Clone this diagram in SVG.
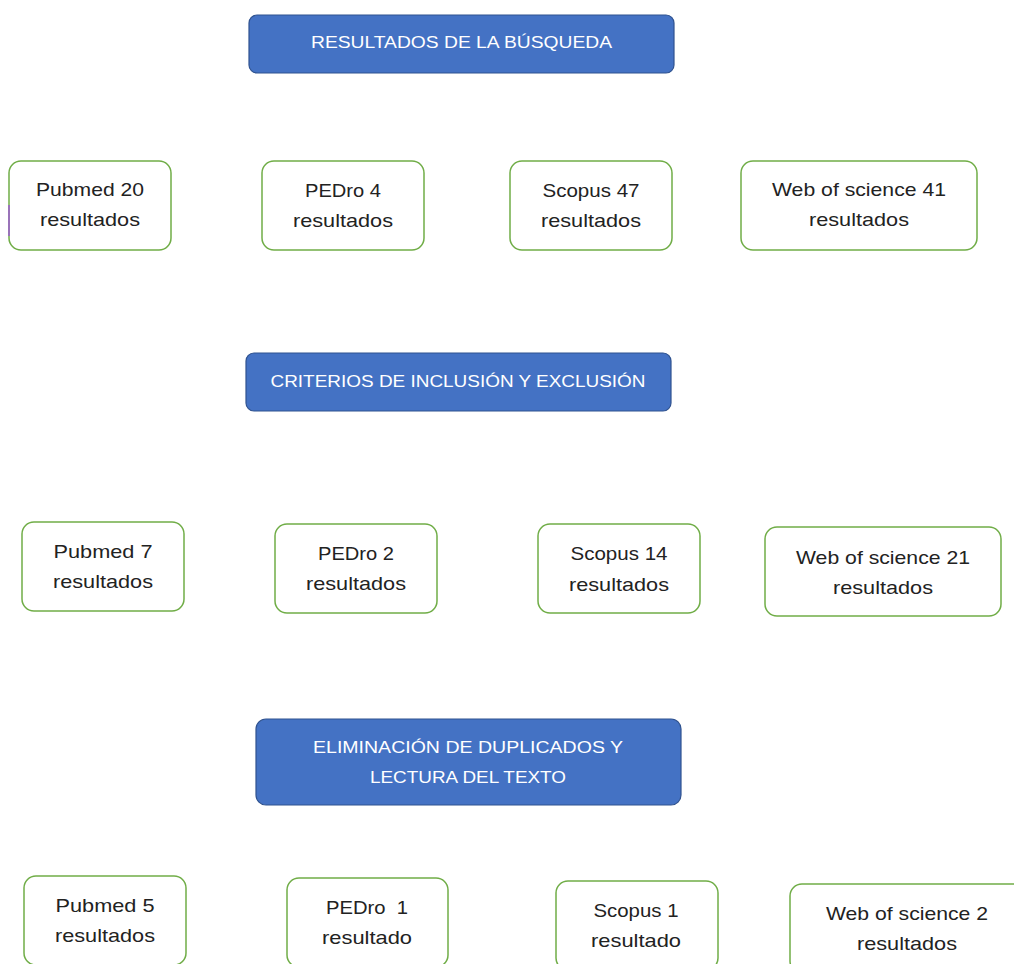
<svg xmlns="http://www.w3.org/2000/svg" width="1014" height="964" viewBox="0 0 1014 964">
<style>
.hdr{fill:#4472C4;stroke:#2F528F;stroke-width:1.2}
.box{fill:#FFFFFF;stroke:#70AD47;stroke-width:1.5}
.ht{font-family:"Liberation Sans",Arial,sans-serif;font-size:17px;fill:#FFFFFF;text-anchor:middle}
.nt{font-family:"Liberation Sans",Arial,sans-serif;font-size:19px;fill:#222222;text-anchor:middle}
</style>
<rect width="1014" height="964" fill="#FFFFFF"/>
<g id="h1"><rect class="hdr" x="249" y="15" width="425" height="58" rx="8"/><text class="ht" x="461.5" y="48" textLength="301" lengthAdjust="spacingAndGlyphs">RESULTADOS DE LA BÚSQUEDA</text></g>
<g id="r1a"><rect class="box" x="9" y="161" width="162" height="89" rx="12"/><line x1="9" y1="205" x2="9" y2="236" stroke="#9B59D0" stroke-width="1.5"/><text class="nt" x="90" y="196" textLength="108" lengthAdjust="spacingAndGlyphs">Pubmed 20</text><text class="nt" x="90" y="226" textLength="100" lengthAdjust="spacingAndGlyphs">resultados</text></g>
<g id="r1b"><rect class="box" x="262" y="161" width="162" height="89" rx="12"/><text class="nt" x="343" y="197" textLength="76" lengthAdjust="spacingAndGlyphs">PEDro 4</text><text class="nt" x="343" y="227" textLength="100" lengthAdjust="spacingAndGlyphs">resultados</text></g>
<g id="r1c"><rect class="box" x="510" y="161" width="162" height="89" rx="12"/><text class="nt" x="591" y="197" textLength="97" lengthAdjust="spacingAndGlyphs">Scopus 47</text><text class="nt" x="591" y="227" textLength="100" lengthAdjust="spacingAndGlyphs">resultados</text></g>
<g id="r1d"><rect class="box" x="741" y="161" width="236" height="89" rx="12"/><text class="nt" x="859" y="196" textLength="174" lengthAdjust="spacingAndGlyphs">Web of science 41</text><text class="nt" x="859" y="226" textLength="100" lengthAdjust="spacingAndGlyphs">resultados</text></g>
<g id="h2"><rect class="hdr" x="246" y="353" width="425" height="58" rx="8"/><text class="ht" x="458" y="387" textLength="375" lengthAdjust="spacingAndGlyphs">CRITERIOS DE INCLUSIÓN Y EXCLUSIÓN</text></g>
<g id="r2a"><rect class="box" x="22" y="522" width="162" height="89" rx="12"/><text class="nt" x="103" y="558" textLength="99" lengthAdjust="spacingAndGlyphs">Pubmed 7</text><text class="nt" x="103" y="588" textLength="100" lengthAdjust="spacingAndGlyphs">resultados</text></g>
<g id="r2b"><rect class="box" x="275" y="524" width="162" height="89" rx="12"/><text class="nt" x="356" y="560" textLength="76" lengthAdjust="spacingAndGlyphs">PEDro 2</text><text class="nt" x="356" y="590" textLength="100" lengthAdjust="spacingAndGlyphs">resultados</text></g>
<g id="r2c"><rect class="box" x="538" y="524" width="162" height="89" rx="12"/><text class="nt" x="619" y="560" textLength="97" lengthAdjust="spacingAndGlyphs">Scopus 14</text><text class="nt" x="619" y="591" textLength="100" lengthAdjust="spacingAndGlyphs">resultados</text></g>
<g id="r2d"><rect class="box" x="765" y="527" width="236" height="89" rx="12"/><text class="nt" x="883" y="564" textLength="174" lengthAdjust="spacingAndGlyphs">Web of science 21</text><text class="nt" x="883" y="594" textLength="100" lengthAdjust="spacingAndGlyphs">resultados</text></g>
<g id="h3"><rect class="hdr" x="256" y="719" width="425" height="86" rx="10"/><text class="ht" x="468" y="753" textLength="310" lengthAdjust="spacingAndGlyphs">ELIMINACIÓN DE DUPLICADOS Y</text><text class="ht" x="468" y="783" textLength="196" lengthAdjust="spacingAndGlyphs">LECTURA DEL TEXTO</text></g>
<g id="r3a"><rect class="box" x="24" y="876" width="162" height="89" rx="12"/><text class="nt" x="105" y="912" textLength="99" lengthAdjust="spacingAndGlyphs">Pubmed 5</text><text class="nt" x="105" y="942" textLength="100" lengthAdjust="spacingAndGlyphs">resultados</text></g>
<g id="r3b"><rect class="box" x="287" y="878" width="161" height="89" rx="12"/><text class="nt" x="367" y="914" textLength="82" lengthAdjust="spacingAndGlyphs" xml:space="preserve">PEDro  1</text><text class="nt" x="367" y="944" textLength="90" lengthAdjust="spacingAndGlyphs">resultado</text></g>
<g id="r3c"><rect class="box" x="556" y="881" width="162" height="89" rx="12"/><text class="nt" x="636" y="917" textLength="85" lengthAdjust="spacingAndGlyphs">Scopus 1</text><text class="nt" x="636" y="947" textLength="90" lengthAdjust="spacingAndGlyphs">resultado</text></g>
<g id="r3d"><rect class="box" x="790" y="884" width="236" height="89" rx="12"/><text class="nt" x="907" y="920" textLength="162" lengthAdjust="spacingAndGlyphs">Web of science 2</text><text class="nt" x="907" y="950" textLength="100" lengthAdjust="spacingAndGlyphs">resultados</text></g>
<g id="connectors"></g>
</svg>
